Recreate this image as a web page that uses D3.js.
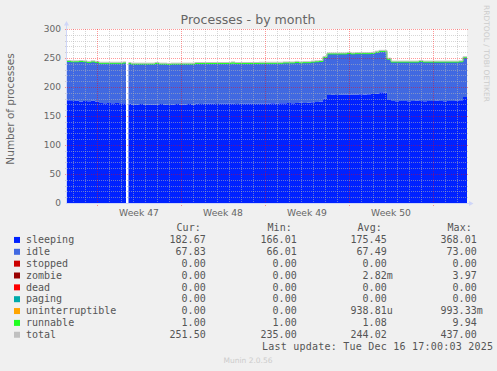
<!DOCTYPE html>
<html>
<head>
<meta charset="utf-8">
<script src="https://cdn.jsdelivr.net/npm/d3@7"></script>
<style>
body { margin: 0; background: #f0f0f0; }
svg { display: block; }
text { font-family: "DejaVu Sans", sans-serif; fill: #666; }
.mono { font-family: "DejaVu Sans Mono", monospace; font-size: 10px; fill: #555; }
</style>
</head>
<body>
<svg width="497" height="371"></svg>
<script>
// one sample every 8 hours from Nov 14 2025 12:00 UTC
var sleeping = [
  177, 176, 176.5, 175, 176, 175.5, 176.5, 175, 172.5, 172,
  172.5, 172, 172.5, 172, 172, 171, 170, 169.5, 170.5, 170,
  170, 169.5, 170, 170.5, 170, 169, 170, 170.5, 170, 170,
  170.5, 170, 171, 170.5, 171, 171.5, 171, 170.5, 171, 171,
  171.5, 171, 170.5, 171, 171, 171.5, 171, 171, 171.5, 171,
  171.5, 172, 171.5, 172, 172, 172.5, 172, 172.5, 173, 172.5,
  173, 173.5, 174, 175, 180, 186, 186.5, 186, 186.5, 187,
  186.5, 187, 187, 187.5, 187, 187.5, 188, 189, 191, 190.5,
  179, 176, 175.5, 176, 176, 175.5, 176, 176.5, 176, 175.5,
  176, 176, 176.5, 176, 175.5, 176, 176, 176.5, 177, 182.67
]
var idle = [
  67, 67.5, 67, 68, 67.5, 67, 67, 67.5, 68.5, 69,
  68.5, 69, 68.5, 69, 69.5, 69.5, 69.5, 70, 69, 69.5,
  69.5, 70, 69.5, 69, 69.5, 70, 69.5, 69, 69.5, 69.5,
  69, 69.5, 69.5, 70, 69.5, 69, 69.5, 70, 69.5, 69.5,
  69, 69.5, 70, 69.5, 69.5, 69, 69.5, 69.5, 69.5, 70,
  69.5, 69, 69.5, 69, 69.5, 69, 69.5, 69, 68.5, 69.5,
  69, 69.5, 69.5, 69, 71, 71, 70.5, 71, 70.5, 70,
  70.5, 70, 70.5, 70, 70.5, 70, 70, 71, 70.5, 71,
  69, 67, 67.5, 67, 67, 67.5, 67, 66.5, 67, 67.5,
  67, 67, 66.5, 67, 67.5, 67, 67, 66.5, 66.5, 67.83
]
var runnable = [
  1, 1, 1, 2, 1, 1, 1, 1, 1, 1,
  1, 1, 1, 1, 1, 1, 1, 1, 1, 1,
  1, 1, 2, 1, 1, 1, 1, 1, 1, 1,
  1, 1, 1, 1, 1, 1, 1, 1, 1, 1,
  1, 2, 1, 1, 1, 1, 1, 1, 1, 1,
  1, 1, 1, 1, 1, 1, 1, 2, 1, 1,
  1, 1, 1, 1, 1, 1, 1, 1, 1, 1,
  2, 1, 1, 1, 1, 1, 1, 1, 1, 1,
  1, 1, 1, 1, 1, 1, 1, 1, 2, 1,
  1, 1, 1, 1, 1, 1, 1, 1, 1, 1
]
// periods with no data (UTC)
var unknownPeriods = [[Date.UTC(2025, 10, 19, 10), Date.UTC(2025, 10, 19, 15)]]

var legendNames = ['sleeping', 'idle', 'stopped', 'zombie', 'dead', 'paging', 'uninterruptible', 'runnable', 'total']
var legendColors = ['#0022ff', '#4169e1', '#cc0000', '#990000', '#ff0000', '#00aaaa', '#ffa500', '#22ff22', '#c0c0c0']
var curVals = ['182.67', '67.83', '0.00', '0.00', '0.00', '0.00', '0.00', '1.00', '251.50']
var minVals = ['166.01', '66.01', '0.00', '0.00', '0.00', '0.00', '0.00', '1.00', '235.00']
var avgVals = ['175.45', '67.49', '0.00', '2.82m', '0.00', '0.00', '938.81u', '1.08', '244.02']
var maxVals = ['368.01', '73.00', '0.00', '3.97', '0.00', '0.00', '993.33m', '9.94', '437.00']

var t0 = Date.UTC(2025, 10, 14, 12)
var step = 8 * 3600 * 1000
var t1 = t0 + sleeping.length * step

var svg = d3.select('svg')

var x = d3.scaleUtc().domain([t0, t1]).range([67, 467])
var y = d3.scaleLinear().domain([0, 300]).range([203, 29])

// canvas
svg.append('rect')
  .attr('x', 67).attr('y', 29)
  .attr('width', 400).attr('height', 174)
  .attr('fill', '#fff')

// stacked areas
var rows = sleeping.map(function(s, i) {
  return { t: t0 + i * step, sleeping: s, idle: idle[i], runnable: runnable[i] }
})
var keys = ['sleeping', 'idle', 'runnable']
var colors = { sleeping: '#0022ff', idle: '#4169e1', runnable: '#22ff22' }
var stacked = d3.stack().keys(keys)(rows)

// each sample covers its whole 8h step
function stepPoints(layer) {
  var pts = []
  layer.forEach(function(d, i) {
    pts.push({ t: rows[i].t, y0: d[0], y1: d[1] })
    pts.push({ t: rows[i].t + step, y0: d[0], y1: d[1] })
  })
  return pts
}

var area = d3.area()
  .x(p => x(p.t))
  .y0(p => y(p.y0))
  .y1(p => y(p.y1))

svg.append('g')
  .selectAll('path')
  .data(stacked)
  .enter()
  .append('path')
  .attr('d', l => area(stepPoints(l)))
  .attr('fill', l => colors[l.key])

// runnable is thin: show it as a pixel wide band under the total line
var topPts = stepPoints(stacked[stacked.length - 1])
svg.append('path')
  .attr('d', d3.line().x(p => x(p.t)).y(p => y(p.y1) + 0.6)(topPts))
  .attr('fill', 'none')
  .attr('stroke', '#22ff22')
  .attr('stroke-width', 1)

// total line
svg.append('path')
  .attr('d', d3.line().x(p => x(p.t)).y(p => y(p.y1) - 0.4)(topPts))
  .attr('fill', 'none')
  .attr('stroke', '#c0c0c0')
  .attr('stroke-width', 1)

// unknown data shows as blank canvas
svg.append('g').selectAll('rect')
  .data(unknownPeriods)
  .enter()
  .append('rect')
  .attr('x', d => x(d[0])).attr('width', d => x(d[1]) - x(d[0]))
  .attr('y', 29).attr('height', 174)
  .attr('fill', '#fff')

// grid on top of data
var grid = svg.append('g').attr('shape-rendering', 'crispEdges')
var minorY = d3.range(10, 301, 10).filter(v => v % 50 !== 0)
var majorY = d3.range(50, 301, 50)
var mondays = d3.utcMonday.range(t0, t1)
var minorX = d3.utcDay.range(t0, t1).filter(d => d.getUTCDay() !== 1)
var minorColor = 'rgba(180,180,180,0.55)'
var majorColor = 'rgba(255,0,0,0.4)'

grid.selectAll('.minory').data(minorY).enter().append('line')
  .attr('x1', 65).attr('x2', 469)
  .attr('y1', v => Math.round(y(v)) + 0.5).attr('y2', v => Math.round(y(v)) + 0.5)
  .attr('stroke', minorColor).attr('stroke-dasharray', '1,1')
grid.selectAll('.minorx').data(minorX).enter().append('line')
  .attr('x1', d => Math.round(x(d)) + 0.5).attr('x2', d => Math.round(x(d)) + 0.5)
  .attr('y1', 29).attr('y2', 205)
  .attr('stroke', minorColor).attr('stroke-dasharray', '1,1')
grid.selectAll('.majory').data(majorY).enter().append('line')
  .attr('x1', 65).attr('x2', 469)
  .attr('y1', v => Math.round(y(v)) + 0.5).attr('y2', v => Math.round(y(v)) + 0.5)
  .attr('stroke', majorColor).attr('stroke-dasharray', '1,1')
grid.selectAll('.majorx').data(mondays).enter().append('line')
  .attr('x1', d => Math.round(x(d)) + 0.5).attr('x2', d => Math.round(x(d)) + 0.5)
  .attr('y1', 29).attr('y2', 206)
  .attr('stroke', majorColor).attr('stroke-dasharray', '1,1')

// axes with arrows
var axisColor = '#cfd6f8'
svg.append('line').attr('x1', 66.5).attr('x2', 66.5).attr('y1', 203).attr('y2', 25)
  .attr('stroke', axisColor)
svg.append('line').attr('x1', 66).attr('x2', 470).attr('y1', 203.5).attr('y2', 203.5)
  .attr('stroke', axisColor)
svg.append('path').attr('d', 'M64,25.5L66.5,21L69,25.5Z').attr('fill', axisColor)
svg.append('path').attr('d', 'M469,201L473.5,203.5L469,206Z').attr('fill', axisColor)

// y tick labels
svg.append('g').selectAll('text')
  .data(d3.range(0, 301, 50))
  .enter()
  .append('text')
  .attr('x', 61).attr('y', v => y(v) + 3.3)
  .attr('text-anchor', 'end')
  .style('font-size', '9px')
  .text(v => v)

// week labels in the middle of each week
var weekStarts = d3.utcMonday.range(d3.utcMonday.floor(t0), t1)
svg.append('g').selectAll('text')
  .data(weekStarts.filter(d => +d + 3.5 * 864e5 > t0 && +d + 3.5 * 864e5 < t1))
  .enter()
  .append('text')
  .attr('x', d => x(+d + 3.5 * 864e5))
  .attr('y', 216)
  .attr('text-anchor', 'middle')
  .style('font-size', '9.2px')
  .text(d => 'Week ' + d3.utcFormat('%V')(d))

// title, axis label, watermarks
svg.append('text').attr('x', 248).attr('y', 24).attr('text-anchor', 'middle')
  .style('font-size', '12.6px').text('Processes - by month')
svg.append('text').attr('transform', 'translate(14,109) rotate(-90)')
  .attr('text-anchor', 'middle').style('font-size', '10.5px').text('Number of processes')
svg.append('text').attr('transform', 'translate(484,5) rotate(90)')
  .attr('textLength', 97).attr('lengthAdjust', 'spacingAndGlyphs')
  .style('font-size', '7.5px').style('fill', '#ccc').text('RRDTOOL / TOBI OETIKER')
svg.append('text').attr('x', 248).attr('y', 362.5).attr('text-anchor', 'middle')
  .style('font-size', '7.5px').style('fill', '#ccc').text('Munin 2.0.56')

// legend
var cols = [205.7, 296.7, 386.7, 476.7]
var heads = ['Cur:', 'Min:', 'Avg:', 'Max:']
var rowY = i => 231.3 + 11.85 * i
var leg = svg.append('g')

heads.forEach(function(h, j) {
  leg.append('text').attr('class', 'mono')
    .attr('x', cols[j] - 5).attr('y', rowY(0))
    .attr('text-anchor', 'end').text(h)
})

legendNames.forEach(function(name, i) {
  var yy = rowY(i + 1)
  leg.append('rect').attr('x', 14).attr('y', yy - 6.2)
    .attr('width', 6).attr('height', 6).attr('fill', legendColors[i])
  leg.append('text').attr('class', 'mono').attr('x', 26).attr('y', yy).text(name)
  ;[curVals, minVals, avgVals, maxVals].forEach(function(vals, j) {
    var m = vals[i].match(/^([\d.]+)([a-zA-Z]?)$/)
    leg.append('text').attr('class', 'mono')
      .attr('x', cols[j]).attr('y', yy).attr('text-anchor', 'end').text(m[1])
    if (m[2]) {
      leg.append('text').attr('class', 'mono')
        .attr('x', cols[j]).attr('y', yy).text(m[2])
    }
  })
})

leg.append('text').attr('class', 'mono')
  .attr('x', 493).attr('y', rowY(10))
  .attr('text-anchor', 'end')
  .attr('textLength', 231).attr('lengthAdjust', 'spacing')
  .text('Last update: Tue Dec 16 17:00:03 2025')
</script>
</body>
</html>
